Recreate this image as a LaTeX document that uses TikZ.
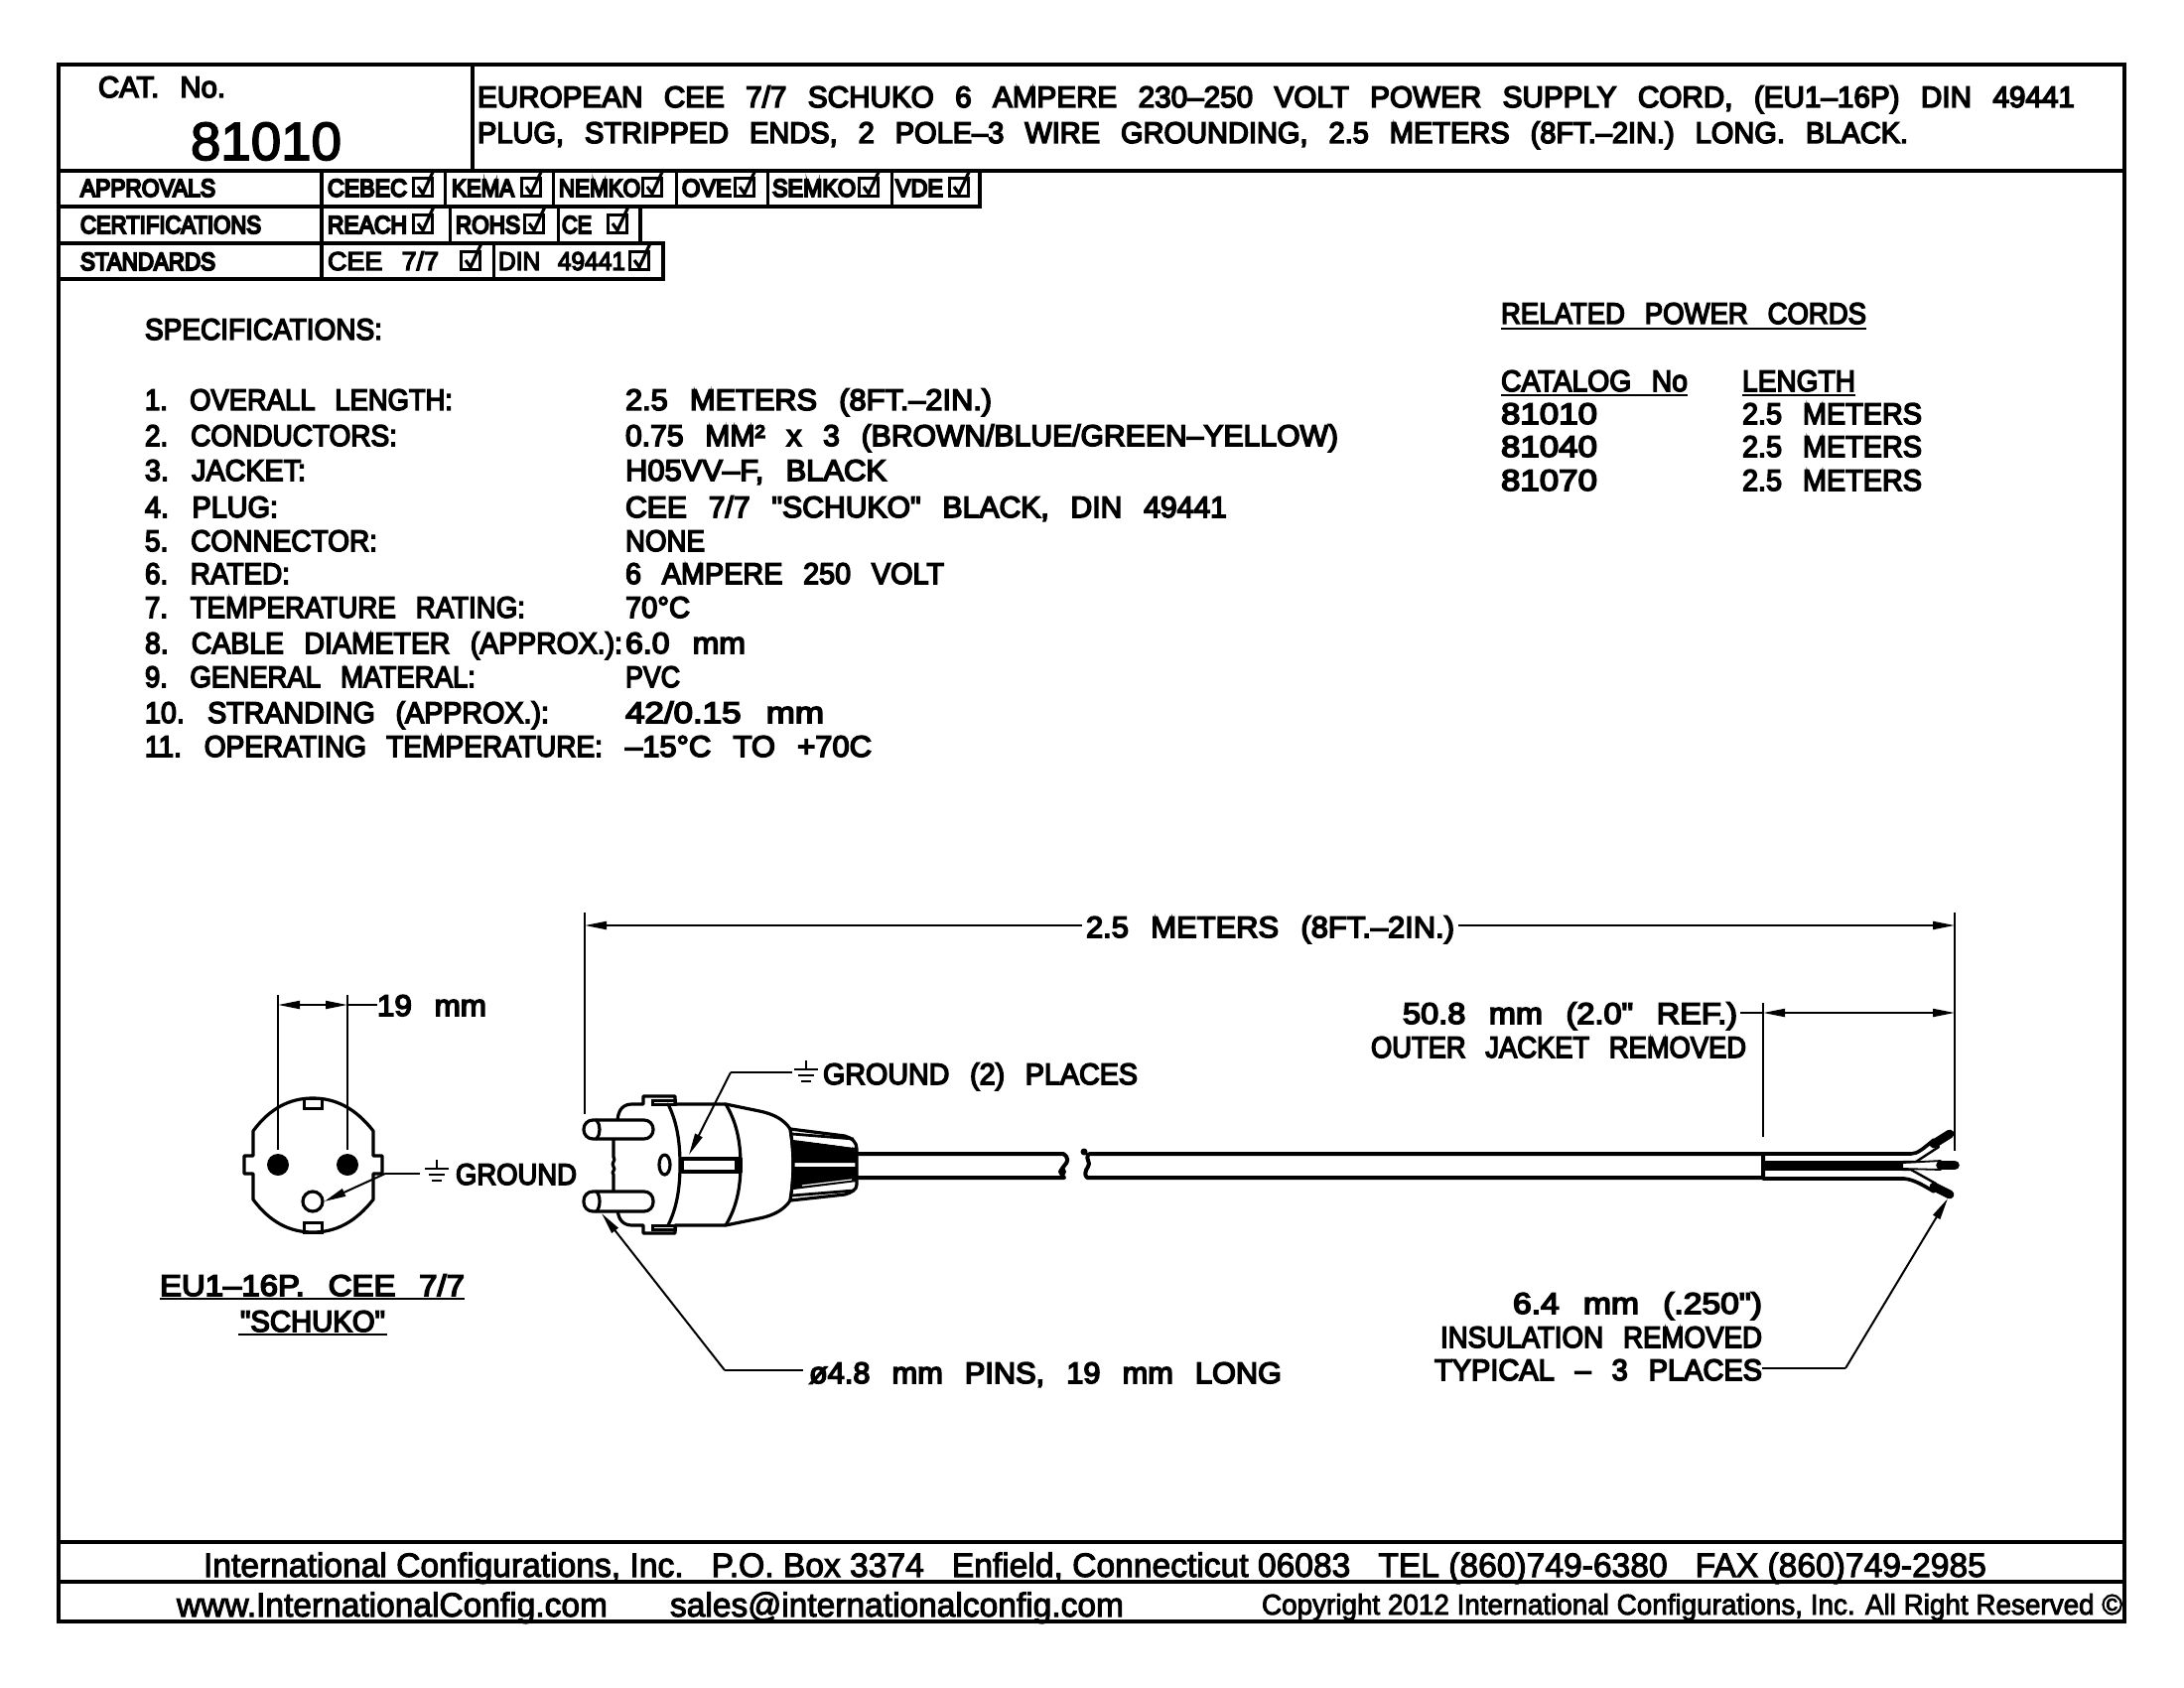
\documentclass[tikz,border=0pt]{standalone}
\usepackage{fontspec}
\usepackage{graphicx}
\usetikzlibrary{arrows.meta}
\setmainfont[FakeBold=3]{Liberation Sans}
\newfontfamily\cad[WordSpace=2.6,FakeBold=5]{Liberation Sans}
\newfontfamily\cadb[WordSpace=2.6,FakeBold=8]{Liberation Sans}
\newcommand\fm{\cad\fontsize{15}{18}\selectfont}
\newcommand\fs{\cadb\fontsize{12.5}{15}\selectfont}
\newcommand\fn{\cad\fontsize{13}{16}\selectfont}
\newcommand\fbig{\rmfamily\fontsize{27}{32}\selectfont}
\newcommand\ffa{\rmfamily\fontsize{17}{20}\selectfont}
\newcommand\ffb{\rmfamily\fontsize{14.5}{17}\selectfont}
% \lab{font}{name}{x}{y}{width px}{text}
\newcommand\lab[6]{\node[txt,font=#1] (#2) at (#3,#4) {\resizebox{\dimexpr #5pt/2\relax}{\height}{#6}};}
\newcommand\chk[2]{%
  \draw[box] (#1,#2) rectangle ++(19,18);
  \draw[tick] (#1+5,#2+8) -- (#1+10,#2+15) -- (#1+21,#2-9);}
\newcommand\gnd[2]{% x centre, y of first bar
  \draw[thin line] (#1,#2-9) -- (#1,#2);
  \draw[thin line] (#1-12,#2) -- (#1+12,#2);
  \draw[thin line] (#1-8,#2+6) -- (#1+8,#2+6);
  \draw[thin line] (#1-5,#2+12) -- (#1+5,#2+12);}
\tikzset{
  txt/.style={anchor=base west,inner sep=0pt,outer sep=0pt},
  frame/.style={line width=2.2pt,line cap=rect},
  rowline/.style={line width=1.9pt,line cap=rect},
  box/.style={line width=1.5pt},
  tick/.style={line width=1.6pt},
  thin line/.style={line width=1pt},
  shp/.style={line width=1.6pt,line join=round,line cap=round},
  dim/.style={line width=1pt,-{Triangle[length=11pt,width=4pt]}},
  dimb/.style={line width=1pt,{Triangle[length=11pt,width=4pt]}-{Triangle[length=11pt,width=4pt]}},
}
\begin{document}
\begin{tikzpicture}[x=0.5pt,y=-0.5pt]
\useasboundingbox (0,0) rectangle (2200,1700);
\fill[white] (0,0) rectangle (2200,1700);
% ---------- header text
\lab{\fm}{cat}{99}{98}{128}{CAT. No.}
\lab{\fbig}{num}{192}{161}{152}{81010}
\lab{\fm}{h1}{481}{108}{1609}{EUROPEAN CEE 7/7 SCHUKO 6 AMPERE 230–250 VOLT POWER SUPPLY CORD, (EU1–16P) DIN 49441}
\lab{\fm}{h2}{481}{144}{1441}{PLUG, STRIPPED ENDS, 2 POLE–3 WIRE GROUNDING, 2.5 METERS (8FT.–2IN.) LONG. BLACK.}
% ---------- table
\lab{\fs}{ta}{81}{198}{136}{APPROVALS}
\lab{\fs}{tb}{81}{235}{182}{CERTIFICATIONS}
\lab{\fs}{tc}{81}{272}{136}{STANDARDS}
\lab{\fs}{a1}{330}{198}{80}{CEBEC}
\lab{\fs}{a2}{455}{198}{63}{KEMA}
\lab{\fs}{a3}{563}{198}{82}{NEMKO}
\lab{\fs}{a4}{687}{198}{50}{OVE}
\lab{\fs}{a5}{778}{198}{84}{SEMKO}
\lab{\fs}{a6}{902}{198}{48}{VDE}
\lab{\fs}{b1}{330}{235}{80}{REACH}
\lab{\fs}{b2}{459}{235}{65}{ROHS}
\lab{\fs}{b3}{566}{235}{30}{CE}
\lab{\fn}{c1}{330}{272}{112}{CEE 7/7}
\lab{\fn}{c2}{502}{272}{128}{DIN 49441}
\foreach \x in {416,525,647,740,865,956} {\chk{\x}{180}}
\foreach \x in {416,528,612} {\chk{\x}{217}}
\foreach \x in {464,634} {\chk{\x}{254}}
% ---------- specifications
\lab{\fm}{sp}{146}{342}{239}{SPECIFICATIONS:}
\lab{\fm}{s1}{146}{413}{310}{1. OVERALL LENGTH:}
\lab{\fm}{s2}{146}{449}{254}{2. CONDUCTORS:}
\lab{\fm}{s3}{146}{484}{162}{3. JACKET:}
\lab{\fm}{s4}{146}{521}{134}{4. PLUG:}
\lab{\fm}{s5}{146}{555}{234}{5. CONNECTOR:}
\lab{\fm}{s6}{146}{588}{146}{6. RATED:}
\lab{\fm}{s7}{146}{622}{383}{7. TEMPERATURE RATING:}
\lab{\fm}{s8}{146}{658}{481}{8. CABLE DIAMETER (APPROX.):}
\lab{\fm}{s9}{146}{692}{333}{9. GENERAL MATERAL:}
\lab{\fm}{s10}{146}{728}{407}{10. STRANDING (APPROX.):}
\lab{\fm}{s11}{146}{762}{461}{11. OPERATING TEMPERATURE:}
\lab{\fm}{v1}{630}{413}{369}{2.5 METERS (8FT.–2IN.)}
\lab{\fm}{v2}{630}{449}{718}{0.75 MM² x 3 (BROWN/BLUE/GREEN–YELLOW)}
\lab{\fm}{v3}{630}{484}{263}{H05VV–F, BLACK}
\lab{\fm}{v4}{630}{521}{606}{CEE 7/7 "SCHUKO" BLACK, DIN 49441}
\lab{\fm}{v5}{630}{555}{80}{NONE}
\lab{\fm}{v6}{630}{588}{321}{6 AMPERE 250 VOLT}
\lab{\fm}{v7}{630}{622}{65}{70°C}
\lab{\fm}{v8}{630}{658}{121}{6.0 mm}
\lab{\fm}{v9}{630}{692}{55}{PVC}
\lab{\fm}{v10}{630}{728}{200}{42/0.15 mm}
\lab{\fm}{v11}{630}{762}{248}{–15°C TO +70C}
% ---------- related cords
\lab{\fm}{r0}{1512}{326}{368}{RELATED POWER CORDS}
\draw[thin line,line width=1.3pt] (r0.base west)++(0,5) -- ++(368,0);
\lab{\fm}{r1}{1512}{394}{188}{CATALOG No}
\draw[thin line,line width=1.3pt] (r1.base west)++(0,4) -- ++(188,0);
\lab{\fm}{r2}{1755}{394}{114}{LENGTH}
\draw[thin line,line width=1.3pt] (r2.base west)++(0,4) -- ++(114,0);
\lab{\fm}{r3}{1512}{427}{97}{81010}
\lab{\fm}{r4}{1512}{460}{97}{81040}
\lab{\fm}{r5}{1512}{494}{97}{81070}
\lab{\fm}{r6}{1755}{427}{181}{2.5 METERS}
\lab{\fm}{r7}{1755}{460}{181}{2.5 METERS}
\lab{\fm}{r8}{1755}{494}{181}{2.5 METERS}
% ---------- footer text
\lab{\ffa}{f1}{205}{1588}{1796}{International Configurations, Inc.~~~P.O. Box 3374~~~Enfield, Connecticut 06083~~~TEL (860)749-6380~~~FAX (860)749-2985}
\lab{\ffa}{f2}{178}{1628}{434}{www.InternationalConfig.com}
\lab{\ffa}{f3}{675}{1628}{457}{sales@internationalconfig.com}
\lab{\ffb}{f4}{1271}{1626}{867}{Copyright 2012 International Configurations, Inc. All Right Reserved ©}
% ---------- frame and rules
\draw[frame] (59,65) rectangle (2140,1633);
\draw[frame] (59,172) -- (2140,172);
\draw[frame] (476,65) -- (476,172);
\draw[frame] (59,1553) -- (2140,1553);
\draw[frame] (59,1593) -- (2140,1593);
\draw[rowline] (59,208) -- (987,208) (59,245) -- (668,245) (59,281) -- (668,281);
\draw[rowline] (987,172) -- (987,208) (645,208) -- (645,245) (668,245) -- (668,281);
\draw[rowline] (324,172) -- (324,281);
\foreach \x in {448,557,681,773,898} {\draw[box] (\x,172) -- (\x,208);}
\foreach \x in {453,562} {\draw[box] (\x,208) -- (\x,245);}
\draw[box] (497,245) -- (497,281);
% ---------- socket face
\draw[shp] (255,1139) .. controls (272,1116) and (292,1106) .. (315,1106)
  .. controls (338,1106) and (358,1116) .. (376,1139) -- (376,1164) -- (385,1164) -- (385,1182) -- (376,1182) -- (376,1208)
  .. controls (358,1231) and (338,1241) .. (315,1241)
  .. controls (292,1241) and (272,1231) .. (255,1208) -- (255,1182) -- (246,1182) -- (246,1164) -- (255,1164) -- cycle;
\draw[box] (306,1106) rectangle (324,1116) (306,1231) rectangle (324,1241);
\fill (280,1173) circle[radius=11];
\fill (350,1173) circle[radius=11];
\node[circle,draw,line width=1.6pt,minimum size=10pt,inner sep=0pt] (gh) at (315,1210) {};
\coordinate (f1a) at (280,1002); \coordinate (f1b) at (280,1158);
\coordinate (f2a) at (350,1002); \coordinate (f2b) at (350,1158);
\draw[thin line] (f1a) -- (f1b);
\draw[thin line] (f2a) -- (f2b);
\lab{\fm}{d19}{380}{1023}{110}{19 mm}
\coordinate (d1) at (280,1012); \coordinate (d2) at (350,1012);
\draw[dimb] (d1) -- (d2);
\draw[thin line] (d2) -- (d19.west |- d2);
% face ground leader
\lab{\fm}{g1}{459}{1193}{122}{GROUND}
\gnd{440}{1177}
\coordinate (gk) at (388,1182);
\coordinate (gs) at (423,1182);
\draw[thin line] (gs) -- (gk);
\draw[dim] (gk) -- (gh.east);
% face title
\lab{\fm}{e1}{161}{1305}{307}{EU1–16P. CEE 7/7}
\draw[thin line,line width=1.3pt] (161,1308) -- (468,1308);
\lab{\fm}{e2}{242}{1341}{146}{"SCHUKO"}
\draw[thin line,line width=1.3pt] (240,1344) -- (390,1344);
% ---------- plug
\draw[shp,fill=white] (622,1128) .. controls (623,1117) and (628,1112) .. (637,1112) -- (648,1112) -- (648,1104) -- (680,1104) -- (680,1112)
  -- (731,1112) -- (765,1119) .. controls (780,1122) and (790,1128) .. (796,1137)
  .. controls (800,1160) and (800,1186) .. (796,1209)
  .. controls (790,1218) and (780,1224) .. (765,1227) -- (731,1234) -- (680,1234) -- (680,1242) -- (648,1242) -- (648,1234) -- (637,1234)
  .. controls (628,1234) and (623,1229) .. (622,1218);
\draw[shp] (618,1147) -- (618,1165) .. controls (621,1169) and (615,1171) .. (618,1175) .. controls (621,1178) and (615,1180) .. (618,1183) -- (618,1200);
\draw[box] (657,1108) rectangle (680,1112) (657,1234) rectangle (680,1238);
\draw[shp] (673,1112) .. controls (682,1130) and (685,1150) .. (685,1173) .. controls (685,1196) and (682,1216) .. (673,1234);
\draw[shp] (731,1112) .. controls (742,1130) and (746,1150) .. (746,1173) .. controls (746,1196) and (742,1216) .. (731,1234);
\draw[shp] (669.5,1173) ellipse[x radius=5.5,y radius=10];
\draw[shp] (687,1167) rectangle (746,1180);
\fill (740,1166) rectangle (748,1181);
% pins
\draw[shp,fill=white,rounded corners=4.6pt] (588,1128) rectangle (658,1147);
\draw[shp,fill=white,rounded corners=4.6pt] (588,1200) rectangle (658,1220);
\draw[shp] (601,1128) .. controls (605,1133) and (605,1142) .. (601,1147);
\draw[shp] (601,1200) .. controls (605,1205) and (605,1215) .. (601,1220);
% strain relief
\draw[shp,fill=white] (796,1137) -- (851,1144) .. controls (858,1146) and (863,1150) .. (863,1157) -- (863,1193)
  .. controls (863,1198) and (858,1201) .. (851,1203) -- (796,1209) .. controls (800,1186) and (800,1160) .. (796,1137);
\fill (799,1148) -- (863,1156) -- (863,1171) -- (800,1171) -- cycle;
\fill (800,1175) -- (863,1175) -- (863,1190) -- (799,1198) -- cycle;
\foreach \a/\b in {1142/1147,1204/1199} {\draw[line width=1.4pt] (798,\a) -- (860,\b);}
\draw[white,line width=0.6pt] (808,1148) -- (858,1155) (808,1194) -- (858,1188);
% cable
\draw[shp,line width=2pt] (863,1162) -- (1071,1162) .. controls (1077,1166) and (1076,1170) .. (1072,1174) .. controls (1068,1178) and (1068,1183) .. (1072,1186) -- (863,1186);
\draw[shp,line width=2pt] (1776,1162) -- (1099,1162) .. controls (1092,1162) and (1097,1170) .. (1097,1172) .. controls (1097,1176) and (1090,1180) .. (1095,1186) -- (1776,1186) -- cycle;
\fill (1092,1160) circle[radius=3.5];
\fill (1070,1180) circle[radius=4];
% stripped wires
\fill (1777,1169) rectangle (1917,1179);
\fill (1917,1169) -- (1917,1179) -- (1880,1176) -- cycle;
\draw[shp,line width=1.8pt] (1776,1162) -- (1925,1162) .. controls (1932,1162) and (1938,1156) .. (1948,1148);
\draw[shp,line width=1.8pt] (1776,1187) -- (1918,1187) .. controls (1928,1188) and (1936,1193) .. (1948,1200);
\draw[shp,line width=1.2pt] (1917,1170) -- (1930,1170) -- (1953,1155);
\draw[shp,line width=1.2pt] (1917,1178) -- (1925,1178) -- (1950,1192);
\draw[shp,line width=0.9pt] (1917,1171) -- (1955,1169);
\draw[shp,line width=0.9pt] (1917,1177) -- (1955,1178);
\draw[line width=4.4pt,line cap=round] (1948,1152) -- (1964,1142);
\draw[line width=4.4pt,line cap=round] (1948,1195) -- (1964,1203);
\draw[line width=4.8pt,line cap=round] (1955,1173.5) -- (1969,1173.5);
% ---------- plug leaders
\lab{\fm}{g2}{829}{1092}{317}{GROUND (2) PLACES}
\gnd{812}{1077}
\coordinate (pg1) at (798,1080); \coordinate (pg2) at (736,1080);
\draw[thin line] (pg1) -- (pg2);
\draw[dim] (pg2) -- (694,1163);
\lab{\fm}{pins}{815}{1393}{476}{ø4.8 mm PINS, 19 mm LONG}
\coordinate (pk) at (730,1380); \coordinate (pe) at (809,1380);
\draw[thin line] (pe) -- (pk);
\draw[dim] (pk) -- (606,1222);
\lab{\fm}{i1}{1524}{1323}{251}{6.4 mm (.250")}
\lab{\fm}{i2}{1451}{1357}{324}{INSULATION REMOVED}
\lab{\fm}{i3}{1445}{1390}{330}{TYPICAL – 3 PLACES}
\coordinate (ik) at (1859,1378); \coordinate (ie) at (1775,1378);
\draw[thin line] (ie) -- (ik);
\draw[dim] (ik) -- (1962,1207);
% ---------- overall dimension
\lab{\fm}{dl}{1094}{944}{371}{2.5 METERS (8FT.–2IN.)}
\coordinate (el) at (589,932); \coordinate (er) at (1969,932);
\draw[thin line] (589,919) -- (589,1122);
\draw[thin line] (1969,919) -- (1969,1159);
\draw[dim] (dl.west |- el) ++(-4,0) -- (el);
\draw[dim] (dl.east |- er) ++(4,0) -- (er);
% ---------- jacket dimension
\lab{\fm}{j1}{1413}{1031}{337}{50.8 mm (2.0" REF.)}
\lab{\fm}{j2}{1381}{1065}{378}{OUTER JACKET REMOVED}
\coordinate (ja) at (1776,1020); \coordinate (jb) at (1969,1020);
\draw[thin line] (1776,1010) -- (1776,1145);
\draw[dimb] (ja) -- (jb);
\draw[thin line] (j1.east |- ja) ++(3,0) -- (ja);
\end{tikzpicture}
\end{document}
